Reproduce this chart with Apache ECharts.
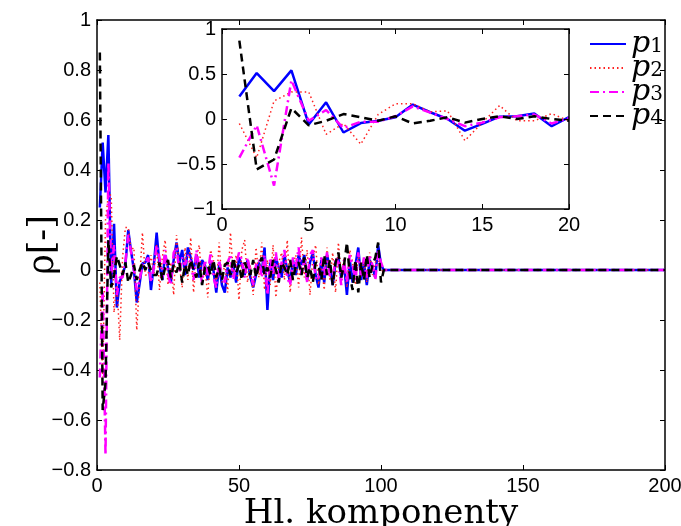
<!DOCTYPE html>
<html><head><meta charset="utf-8">
<script src="https://cdn.jsdelivr.net/npm/echarts@6/dist/echarts.min.js"></script>
<style>html,body{margin:0;padding:0;background:#fff}#c{width:681px;height:526px}</style>
</head><body><div id="c"></div>
<script>
// Values for components 1..100 (components 101..200 are zero)
const p1Head = [0.25,0.51,0.31,0.54,-0.06,0.185,-0.15,-0.045,-0.02,0.02,
  0.16,0.075,0,-0.13,-0.055,0.026,0.03,0.06,-0.08,0.02,
  0.15,0.02,-0.04,0.06,0.01,-0.05,0.04,0.11,0.03,0.08,
  -0.02,0.09,0.05,0.0,0.06,-0.03,0.04,0.02,-0.04,0.03,
  0.0,-0.09,0.02,-0.06,-0.09,0.01,-0.03,0.02,-0.05,0.05,
  0.02,-0.02,0.04,-0.03,-0.07,-0.02,0.03,-0.01,0.09,-0.16,
  0.03,-0.04,0.05,0.01,-0.03,0.06,0.0,-0.05,0.04,-0.02,
  0.06,0.02,0.06,-0.04,0.03,0.07,-0.02,-0.07,0.04,-0.05,
  0.06,0.01,-0.06,0.03,0.05,-0.03,0.02,-0.1,0.04,-0.05,
  0.02,0.09,-0.04,0.03,-0.06,0.04,0.01,-0.03,0.1,0.02];
const p2Head = [-0.05,-0.43,0.2,0.3,0.3,-0.17,-0.05,-0.28,0.05,0.17,
  0.17,0.08,0.09,-0.24,-0.04,0.15,-0.02,-0.02,0.06,-0.02,
  0.1,-0.08,0.05,0.12,-0.06,0.03,-0.1,0.14,0.02,-0.07,
  0.09,-0.04,0.13,-0.09,0.05,0.1,-0.06,0.02,-0.11,0.08,
  0.04,-0.07,0.11,-0.05,0.03,-0.09,0.15,-0.02,0.06,-0.12,
  0.08,0.12,-0.05,0.02,-0.1,0.09,-0.03,0.11,-0.08,0.04,
  -0.06,0.1,-0.11,0.03,0.07,-0.04,0.12,-0.09,0.02,0.06,
  -0.07,0.13,-0.03,0.08,-0.1,0.05,0.1,-0.06,0.03,-0.08,
  0.09,-0.04,0.07,-0.09,0.11,-0.02,0.05,-0.07,0.08,0.03,
  -0.06,0.06,-0.03,0.04,-0.05,0.07,-0.02,0.03,0.05,-0.01];
const p3Head = [-0.43,-0.07,-0.74,0.43,-0.02,0.1,-0.1,-0.03,-0.03,0.03,
  0.14,0.07,0,-0.08,-0.04,0.02,0.03,0.05,-0.05,0.01,
  0.1,0.05,-0.03,0.08,-0.02,-0.06,0.07,0.09,-0.01,0.05,
  0.02,0.06,0.03,-0.04,0.08,0.01,-0.05,0.04,-0.02,0.07,
  -0.03,-0.07,0.04,-0.02,-0.05,0.03,0.06,-0.04,0.02,0.07,
  0.04,-0.03,0.05,-0.01,-0.06,0.02,0.04,-0.03,0.06,-0.1,
  0.05,-0.02,0.07,-0.04,0.03,0.08,-0.03,-0.06,0.05,0.01,
  0.09,-0.02,0.04,-0.05,0.06,0.08,-0.04,-0.03,0.05,-0.02,
  0.07,-0.03,-0.04,0.05,0.03,-0.06,0.04,-0.05,0.06,0.02,
  -0.04,0.07,-0.02,0.05,-0.03,0.06,0.02,-0.04,0.08,0.03];
const p4Head = [0.87,-0.56,-0.45,0.12,-0.07,-0.02,0.055,0.02,-0.02,0.03,
  -0.05,-0.02,0.02,-0.04,0,0.03,0,0.03,0,-0.02,
  -0.02,0.03,-0.04,0.01,0.04,-0.03,0.02,-0.01,0.03,-0.05,
  0.02,-0.02,0.04,0.0,-0.03,0.03,-0.06,0.01,0.02,-0.02,
  0.04,-0.03,0.01,-0.04,0.02,0.03,-0.02,0.05,-0.01,0.02,
  -0.04,0.03,0.0,-0.02,0.04,-0.03,0.02,0.05,-0.02,0.01,
  -0.03,0.04,0.0,-0.05,0.03,0.01,-0.02,0.04,-0.04,0.02,
  0.03,-0.02,0.05,-0.03,0.01,-0.05,0.03,0.02,-0.04,0.06,
  -0.02,0.04,-0.06,0.03,0.07,-0.03,0.02,0.11,-0.02,-0.08,
  0.04,-0.09,0.03,-0.04,0.06,-0.03,0.02,0.05,0.11,-0.05];
const tail = [0,0,0,0,0,0,0,0,0,0,0,0,0,0,0,0,0,0,0,0,
  0,0,0,0,0,0,0,0,0,0,0,0,0,0,0,0,0,0,0,0,
  0,0,0,0,0,0,0,0,0,0,0,0,0,0,0,0,0,0,0,0,
  0,0,0,0,0,0,0,0,0,0,0,0,0,0,0,0,0,0,0,0,
  0,0,0,0,0,0,0,0,0,0,0,0,0,0,0,0,0,0,0,0];
const seriesNames = ['p1','p2','p3','p4'];
const mainX = {min:0, max:200, interval:50};
const mainY = {min:-0.8, max:1, interval:0.2};
const insetX = {min:0, max:20, interval:5};
const insetY = {min:-1, max:1, interval:0.5};
const insetCount = 20;

const heads = [p1Head, p2Head, p3Head, p4Head];
const styles = [
  {color:'#0000ff', width:2.5, type:'solid'},
  {color:'#ff2020', width:1.5, type:[1.5,3]},
  {color:'#ff00ff', width:2.5, type:[9,4,2,4]},
  {color:'#000000', width:2.5, type:[8,5]}
];
function fullPts(h){ return h.concat(tail).map((v,i)=>[i+1,v]); }
function insetPts(h){ return h.slice(0,insetCount).map((v,i)=>[i+1,v]); }
function fmt(v){ const r = Math.round(v*10)/10; return String(r).replace('-', '\u2212'); }

const tickFont = {fontFamily:'Liberation Sans, Arial, sans-serif', fontSize:20, color:'#000'};
const axLine = {show:true, onZero:false, lineStyle:{color:'#000', width:1.5}};
const tickIn = {show:true, inside:true, length:5, lineStyle:{color:'#000', width:1}};

function ax(grid, r, pos, labels, extra){
  return Object.assign({type:'value', gridIndex:grid, position:pos, min:r.min, max:r.max, interval:r.interval,
    axisLine:axLine, axisTick:tickIn, splitLine:{show:false},
    axisLabel:Object.assign({show:labels, margin:6, formatter:fmt}, tickFont)}, extra||{});
}

const series = [];
heads.forEach((h,i)=>{
  series.push({name:seriesNames[i], type:'line', xAxisIndex:0, yAxisIndex:0, data:fullPts(h),
    symbol:'none', animation:false, z:2+i*0.01,
    lineStyle:{color:styles[i].color, width:styles[i].width, type:styles[i].type},
    itemStyle:{color:styles[i].color}});
});
heads.forEach((h,i)=>{
  series.push({name:seriesNames[i], type:'line', xAxisIndex:2, yAxisIndex:2, data:insetPts(h),
    symbol:'none', animation:false, z:12+i*0.01,
    lineStyle:{color:styles[i].color, width:styles[i].width, type:styles[i].type},
    itemStyle:{color:styles[i].color}});
});

const chart = echarts.init(document.getElementById('c'), null, {renderer:'canvas'});
chart.setOption({
  backgroundColor:'#fff',
  animation:false,
  grid:[
    {left:97, top:20, width:568, height:450, show:false, containLabel:false, outerBoundsMode:'none'},
    {left:222, top:29, width:347, height:180, show:true, backgroundColor:'#fff', borderWidth:0, z:10,
     containLabel:false, outerBoundsMode:'none'}
  ],
  xAxis:[
    ax(0, mainX, 'bottom', true, {name:'Hl. komponenty', nameLocation:'middle', nameGap:27, nameMoveOverlap:false,
      nameTextStyle:{fontFamily:'DejaVu Serif, serif', fontSize:34, color:'#000'}}),
    ax(0, mainX, 'top', false),
    ax(1, insetX, 'bottom', true, {z:14}),
    ax(1, insetX, 'top', false, {z:14})
  ],
  yAxis:[
    ax(0, mainY, 'left', true, {name:'\u03c1[-]', nameLocation:'middle', nameGap:36, nameRotate:90, nameMoveOverlap:false,
      nameTextStyle:{fontFamily:'DejaVu Serif, serif', fontSize:35, color:'#000'}}),
    ax(0, mainY, 'right', false),
    ax(1, insetY, 'left', true, {z:14}),
    ax(1, insetY, 'right', false, {z:14})
  ],
  legend:{
    orient:'vertical', left:584, top:24, itemWidth:36, itemHeight:10, itemGap:-6,
    data:seriesNames, selectedMode:false, z:20,
    itemStyle:{opacity:0},
    formatter: n => '{i|p}{s|' + n.slice(1) + '}',
    textStyle:{rich:{
      i:{fontFamily:'DejaVu Serif, serif', fontStyle:'italic', fontSize:30, lineHeight:26, color:'#000'},
      s:{fontFamily:'DejaVu Serif, serif', fontSize:20, lineHeight:8, verticalAlign:'bottom', color:'#000'}
    }}
  },
  series: series
});
</script></body></html>
